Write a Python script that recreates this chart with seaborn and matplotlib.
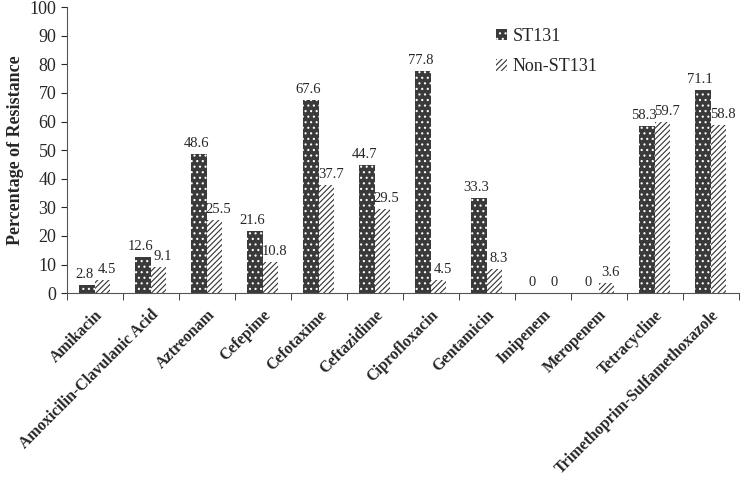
# Antibiotic resistance: ST131 vs Non-ST131

import pandas as pd
import numpy as np
import matplotlib.pyplot as plt
import seaborn as sns

# Data
drugs = ["Amikacin", "Amoxicilin-Clavulanic Acid", "Aztreonam", "Cefepime",
         "Cefotaxime", "Ceftazidime", "Ciprofloxacin", "Gentamicin",
         "Imipenem", "Meropenem", "Tetracycline", "Trimethoprim-Sulfamethoxazole"]
st131 = [2.8, 12.6, 48.6, 21.6, 67.6, 44.7, 77.8, 33.3, 0, 0, 58.3, 71.1]
non_st131 = [4.5, 9.1, 25.5, 10.8, 37.7, 29.5, 4.5, 8.3, 0, 3.6, 59.7, 58.8]
groups = ["ST131", "Non-ST131"]

df = pd.DataFrame({
    "drug": drugs * 2,
    "value": st131 + non_st131,
    "group": [groups[0]] * len(drugs) + [groups[1]] * len(drugs),
})

sns.set_style("white")
plt.rcParams["font.family"] = ["Liberation Serif", "DejaVu Serif"]
plt.rcParams["hatch.linewidth"] = 0.8

fig = plt.figure(figsize=(7.5, 4.79), dpi=100)
ax = fig.add_axes([0.089, 0.388, 0.896, 0.597])

sns.barplot(data=df, x="drug", y="value", hue="group", order=drugs,
            hue_order=groups, width=0.55, gap=0, ax=ax)

# Patterns: dark dotted for ST131, diagonal hatch for Non-ST131
for i, cont in enumerate(ax.containers):
    for bar in cont:
        if i == 0:
            bar.set_facecolor("#3a3a3a")
            bar.set_edgecolor("white")
            bar.set_hatch("...")
        else:
            bar.set_facecolor("white")
            bar.set_edgecolor("#333333")
            bar.set_hatch("//////")
        bar.set_linewidth(0)
    texts = ax.bar_label(cont, labels=[f"{v:g}" for v in cont.datavalues],
                         padding=3, fontsize=10.5)
    for t in texts:
        t.xyann = (-2, 3) if i == 0 else (3, 3)

ax.set_ylim(0, 100)
ax.set_yticks(np.arange(0, 101, 10))
ax.tick_params(axis="y", labelsize=13, length=4, direction="out", left=True)
ax.set_ylabel("Percentage of Resistance", fontsize=13, fontweight="bold")
ax.set_xlabel("")

ax.set_xlim(-0.5, len(drugs) - 0.5)
ax.set_xticks(range(len(drugs)))
ax.set_xticklabels(drugs, rotation=45, ha="right", rotation_mode="anchor",
                   fontsize=11.5, fontweight="bold")
ax.tick_params(axis="x", which="major", length=0, pad=10)
ax.set_xticks(np.arange(-0.5, len(drugs)), minor=True)
ax.tick_params(axis="x", which="minor", length=5, bottom=True, direction="out")

for s in ["top", "right"]:
    ax.spines[s].set_visible(False)
for s in ["left", "bottom"]:
    ax.spines[s].set_color("#555555")

handles = [ax.containers[0][0], ax.containers[1][0]]
ax.legend(handles, groups, frameon=False, loc="upper left",
          bbox_to_anchor=(0.615, 0.985), fontsize=13, handlelength=0.6,
          handleheight=0.6, handletextpad=0.3, labelspacing=0.75)

fig.savefig("out.png", dpi=100)
